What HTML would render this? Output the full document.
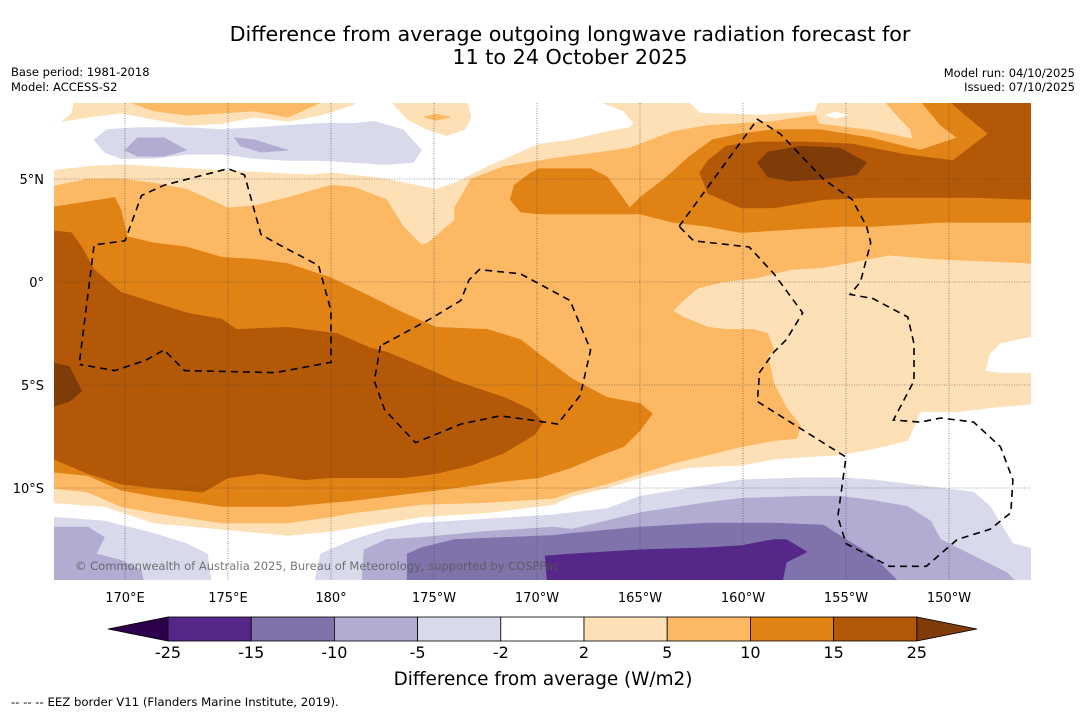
<!DOCTYPE html>
<html><head><meta charset="utf-8"><style>
html,body{margin:0;padding:0;background:#fff;}
body{width:1085px;height:713px;position:relative;overflow:hidden;font-family:"DejaVu Sans","Liberation Sans",sans-serif;}
svg{position:absolute;left:0;top:0;font-family:"DejaVu Sans","Liberation Sans",sans-serif;}
</style></head><body>
<svg id="chart" width="1085" height="713" viewBox="0 0 1085 713">
<defs><clipPath id="mapclip"><rect x="54" y="103" width="977" height="477"/></clipPath></defs>
<text x="570" y="41" text-anchor="middle" font-size="20.7" fill="#000">Difference from average outgoing longwave radiation forecast for</text>
<text x="570" y="64" text-anchor="middle" font-size="20.7" fill="#000">11 to 24 October 2025</text>
<text x="11" y="76" font-size="11.5">Base period: 1981-2018</text>
<text x="11" y="91" font-size="11.5">Model: ACCESS-S2</text>
<text x="1075" y="77" font-size="11.5" text-anchor="end">Model run: 04/10/2025</text>
<text x="1075" y="91" font-size="11.5" text-anchor="end">Issued: 07/10/2025</text>
<g id="map" clip-path="url(#mapclip)"></g>
<g id="grid"></g>
<g id="eez" clip-path="url(#mapclip)"></g>
<text x="75" y="570" font-size="11.5" fill="#555" fill-opacity="0.8">© Commonwealth of Australia 2025, Bureau of Meteorology, supported by COSPPac</text>
<g id="axes"></g>
<g id="cbar"></g>
<text x="543" y="685" font-size="18.4" text-anchor="middle">Difference from average (W/m2)</text>
<text x="11" y="706" font-size="11.7">--  --  -- EEZ border V11 (Flanders Marine Institute, 2019).</text>
</svg>
<script>
// ---- data ----
const cbarBounds = [-25,-15,-10,-5,-2,2,5,10,15,25];
const levelColors = ["#2d004b","#542788","#8073ac","#b2abd2","#d8daeb","#ffffff","#fee0b6","#fdb863","#e08214","#b35806","#7f3b08"];
const lonTicks = [170,175,180,185,190,195,200,205,210];
const lonLabels = ["170°E","175°E","180°","175°W","170°W","165°W","160°W","155°W","150°W"];
const latTicks = [5,0,-5,-10];
const latLabels = ["5°N","0°","5°S","10°S"];
const L=166.3,R=214.3,T=8.8,B=-14.6;
const pos2Main = [[L,5.4],[168.2,5.6],[169.8,5.7],[175.0,5.4],[179.0,5.2],[180.0,5.3],[182.7,5.0],[185.1,4.5],[186.0,4.8],[187.6,5.6],[189.2,6.3],[190.1,6.7],[191.7,6.9],[193.4,7.3],[194.5,7.5],[194.7,7.7],[194.2,8.3],[192.9,T],[197.3,T],[197.9,8.2],[200.8,8.1],[203.9,8.3],[204.2,T],[R,T],[R,-5.9],[212.0,-6.1],[210.4,-6.3],[208.6,-6.3],[208.4,-6.8],[208.0,-7.7],[206.3,-8.1],[204.7,-8.4],[202.9,-8.5],[201.5,-8.6],[199.9,-8.9],[197.4,-9.0],[195.0,-9.5],[193.4,-10.0],[191.7,-10.4],[190.8,-10.8],[187.6,-11.2],[184.4,-11.4],[180.0,-12.1],[177.9,-12.3],[174.7,-12.0],[171.4,-11.7],[169.0,-10.9],[L,-10.7]];
const zeroNotch = [[R,-2.6],[212.5,-3.0],[212.0,-3.5],[211.8,-4.3],[212.5,-4.4],[R,-4.4]];
const zeroNorthWest = [[L,T],[167.5,T],[167.4,8.2],[166.9,7.8],[L,7.7]];
const pos2TopLeft = [[L,T],[181.3,T],[181.1,8.6],[179.5,8.1],[177.9,7.8],[176.3,8.0],[174.7,7.7],[173.0,7.6],[171.4,7.9],[169.8,8.2],[168.2,8.0],[L,7.7]];
const pos5TopLeft = [[170.0,T],[179.7,T],[177.9,8.0],[176.3,8.3],[174.7,8.2],[173.0,8.1],[171.4,8.3]];
const pos2TopMid = [[182.9,T],[186.6,T],[186.8,8.0],[186.5,7.4],[185.6,7.1],[184.7,7.4],[183.7,7.9]];
const pos5TopMid = [[184.5,8.0],[185.1,8.15],[185.8,8.0],[185.1,7.85]];
const pos5Main = [[L,4.6],[168.2,5.0],[169.8,5.0],[171.4,4.8],[173.0,4.5],[175.0,3.6],[176.3,3.7],[177.9,4.1],[180.0,4.7],[181.1,4.6],[182.7,4.0],[183.5,2.7],[184.4,1.8],[184.7,1.9],[186.0,3.0],[186.0,3.6],[186.8,5.0],[188.4,5.6],[190.8,6.0],[193.1,6.3],[194.5,6.5],[195.0,6.7],[196.6,7.3],[198.3,7.6],[199.9,7.7],[201.5,7.8],[202.8,8.0],[203.7,8.1],[204.4,8.4],[204.7,T],[R,T],[R,0.9],[209.6,1.1],[207.1,1.3],[205.5,1.0],[203.9,0.7],[202.3,0.6],[200.7,0.2],[199.0,0.0],[197.8,-0.3],[197.1,-0.9],[196.6,-1.4],[197.1,-1.7],[198.3,-2.2],[199.2,-2.3],[200.5,-2.3],[201.2,-2.5],[201.5,-3.3],[201.2,-3.6],[201.5,-4.9],[202.1,-6.1],[202.8,-7.0],[202.6,-7.6],[201.5,-7.7],[199.9,-8.0],[198.3,-8.4],[196.6,-8.8],[195.0,-9.3],[193.4,-9.8],[191.7,-10.2],[190.8,-10.5],[187.6,-10.7],[184.4,-10.8],[181.1,-11.2],[180.0,-11.4],[177.9,-11.7],[174.7,-11.7],[171.4,-11.2],[169.8,-10.9],[168.2,-10.2],[L,-10.0]];
const pos2Wedge = [[203.5,8.3],[203.7,T],[206.8,T],[207.6,7.9],[208.1,7.4],[208.2,7.0],[208.1,7.0],[206.2,7.4],[203.7,7.7]];
const zeroHole = [[204.0,8.1],[204.5,8.25],[205.1,8.1],[204.5,7.95]];
const pos10West = [[L,3.6],[168.2,3.9],[169.5,4.1],[169.8,3.5],[170.1,2.2],[171.4,1.9],[173.0,1.7],[174.7,1.2],[176.3,1.1],[177.9,0.9],[180.0,0.2],[181.9,-0.7],[183.5,-1.5],[185.1,-2.2],[187.6,-2.3],[189.2,-2.8],[190.1,-3.5],[191.7,-4.7],[193.4,-5.6],[195.0,-5.9],[195.6,-6.4],[195.0,-7.2],[194.2,-8.0],[193.1,-8.4],[191.7,-9.0],[190.1,-9.5],[188.2,-9.7],[186.0,-10.0],[184.4,-10.2],[181.1,-10.6],[180.0,-10.7],[177.9,-10.9],[174.7,-10.9],[171.4,-10.4],[169.8,-10.1],[168.2,-9.4],[L,-9.2]];
const pos10East = [[190.1,3.3],[189.2,3.4],[188.7,4.0],[188.9,4.7],[189.7,5.3],[190.1,5.5],[192.6,5.5],[193.4,5.1],[194.0,4.3],[194.5,3.6],[195.0,4.1],[196.3,5.1],[197.4,6.1],[198.5,6.9],[199.9,7.2],[201.5,7.4],[203.7,7.4],[206.2,7.0],[208.6,6.4],[210.4,7.0],[209.6,7.6],[208.6,T],[R,T],[R,2.9],[211.2,2.9],[209.6,2.9],[206.3,2.7],[204.7,2.7],[203.1,2.6],[201.5,2.5],[199.9,2.4],[198.3,2.7],[196.6,2.9],[195.0,3.3],[193.4,3.3]];
const pos15West = [[L,2.5],[167.4,2.4],[167.9,1.7],[168.5,0.6],[169.8,-0.5],[171.4,-1.0],[173.0,-1.5],[174.7,-1.8],[175.4,-2.3],[177.9,-2.2],[180.3,-2.5],[181.9,-3.2],[182.7,-3.4],[184.4,-4.1],[186.0,-4.8],[188.4,-5.6],[189.7,-6.2],[190.3,-6.8],[189.9,-7.4],[188.4,-8.3],[186.8,-8.9],[185.1,-9.3],[183.5,-9.5],[180.0,-9.5],[178.7,-9.6],[176.6,-9.3],[175.0,-9.5],[173.8,-10.2],[171.4,-10.0],[169.8,-9.8],[168.2,-9.3],[L,-8.5]];
const pos25West = [[L,-3.9],[167.3,-4.1],[167.9,-5.3],[167.3,-5.8],[L,-6.1]];
const pos15East = [[197.9,5.3],[198.3,5.9],[199.2,6.6],[200.7,6.8],[203.1,6.8],[205.3,6.7],[207.8,6.2],[210.2,5.9],[211.9,7.2],[210.8,8.1],[210.0,T],[R,T],[R,4.0],[211.2,4.1],[209.6,4.1],[206.3,4.1],[203.9,4.0],[201.5,3.6],[199.9,3.6],[198.3,4.3]];
const pos25East = [[200.7,5.8],[201.2,6.3],[202.8,6.6],[204.7,6.5],[206.0,5.8],[205.5,5.2],[203.9,5.0],[202.3,4.9],[201.2,5.1]];
const neg2North = [[168.5,6.9],[169.1,7.4],[170.6,7.5],[173.0,7.5],[174.7,7.4],[176.3,7.5],[177.9,7.6],[179.5,7.7],[181.1,7.7],[182.1,7.8],[183.5,7.4],[184.4,6.4],[184.0,5.8],[182.7,5.7],[181.1,5.8],[179.5,5.9],[177.9,5.9],[176.3,6.0],[174.7,6.2],[173.0,6.2],[171.4,6.0],[169.8,6.0],[169.0,6.3]];
const neg5NorthA = [[170.0,6.4],[170.6,7.0],[171.9,7.0],[173.0,6.4],[171.9,6.1],[170.6,6.1]];
const neg5NorthB = [[175.3,7.0],[176.3,6.9],[177.9,6.4],[176.6,6.3],[175.6,6.6]];
const neg2SouthW = [[L,-11.4],[169.0,-11.6],[171.4,-12.2],[173.0,-12.7],[174.0,-13.2],[174.2,B],[L,B]];
const neg2SouthE = [[179.2,B],[179.5,-13.2],[181.1,-12.5],[182.7,-12.0],[184.4,-11.7],[187.6,-11.5],[190.8,-11.3],[191.7,-11.2],[193.4,-11.0],[195.0,-10.4],[197.4,-10.0],[199.9,-9.6],[203.1,-9.5],[204.7,-9.5],[206.3,-9.6],[209.6,-10.0],[211.2,-10.2],[212.0,-10.9],[212.6,-11.9],[213.1,-12.7],[R,-13.0],[R,B]];
const neg5SouthW = [[L,-11.9],[168.2,-11.9],[169.0,-12.4],[168.6,-13.2],[169.8,-13.5],[170.8,-14.0],[170.9,B],[L,B]];
const neg5SouthE = [[181.5,B],[181.6,-13.0],[182.7,-12.5],[184.4,-12.4],[187.6,-12.1],[190.8,-11.9],[191.7,-12.0],[195.0,-11.2],[198.3,-10.7],[199.9,-10.5],[203.1,-10.4],[204.7,-10.4],[206.3,-10.6],[208.0,-10.9],[209.1,-11.6],[209.6,-12.5],[211.2,-13.3],[212.8,-14.1],[213.3,B]];
const neg10South = [[183.7,B],[183.7,-13.2],[184.4,-12.9],[186.0,-12.5],[188.4,-12.4],[190.8,-12.3],[191.7,-12.2],[195.0,-11.9],[198.3,-11.7],[201.5,-11.7],[203.9,-11.8],[205.0,-12.5],[206.3,-13.3],[207.1,-14.1],[207.6,B]];
const neg15South = [[190.5,B],[190.4,-13.3],[191.7,-13.2],[195.0,-13.0],[198.3,-12.9],[199.9,-12.8],[201.5,-12.5],[202.1,-12.5],[203.1,-13.1],[202.1,-13.6],[201.9,B]];
const eezWest = [[167.8,-3.8],[168.5,1.8],[170.0,2.0],[170.8,4.2],[171.9,4.7],[175.0,5.5],[175.8,5.2],[176.6,2.3],[177.5,1.8],[179.4,0.8],[180.0,-1.4],[180.0,-3.9],[177.3,-4.4],[172.9,-4.3],[171.9,-3.3],[171.0,-3.8],[169.5,-4.3],[167.8,-4.0]];
const eezCentral = [[182.4,-3.1],[182.1,-4.8],[182.6,-6.2],[184.1,-7.8],[186.3,-6.9],[188.2,-6.5],[189.7,-6.7],[191.0,-6.9],[192.1,-5.5],[192.6,-3.3],[191.6,-0.9],[189.2,0.4],[187.2,0.6],[186.7,0.1],[186.3,-0.9],[184.8,-1.8],[182.4,-3.1]];
const eezEast = [[196.9,2.7],[200.7,7.9],[201.8,7.2],[203.9,5.0],[205.3,4.0],[206.0,2.7],[206.2,1.9],[205.7,0.0],[205.2,-0.6],[206.3,-0.8],[208.0,-1.7],[208.3,-3.0],[208.3,-4.8],[207.3,-6.7],[208.6,-6.8],[209.6,-6.6],[211.2,-6.8],[212.5,-8.0],[213.1,-9.6],[213.0,-11.2],[212.0,-12.0],[210.4,-12.5],[208.9,-13.8],[207.1,-13.8],[205.0,-12.7],[204.6,-11.4],[205.0,-8.5],[200.7,-5.8],[200.8,-4.4],[201.5,-3.4],[202.1,-2.8],[202.9,-1.5],[201.5,0.4],[200.3,1.7],[197.6,2.0],[196.9,2.7]];
// layer order: [level index into levelColors, polygon, name]
const layers = [
 [6,pos2Main,"contour-2-5-main"],[5,zeroNotch,"contour-neutral-notch"],[6,pos2TopLeft,"contour-2-5-north"],[5,zeroNorthWest,"contour-neutral-northwest"],[7,pos5TopLeft,"contour-5-10-north"],
 [6,pos2TopMid,"contour-2-5-north-mid"],[7,pos5TopMid,"contour-5-10-north-mid"],[7,pos5Main,"contour-5-10-main"],
 [6,pos2Wedge,"contour-2-5-wedge"],[5,zeroHole,"contour-neutral-hole"],
 [8,pos10West,"contour-10-15-west"],[8,pos10East,"contour-10-15-east"],[9,pos15West,"contour-15-25-west"],[10,pos25West,"contour-above-25-west"],
 [9,pos15East,"contour-15-25-east"],[10,pos25East,"contour-above-25-east"],
 [4,neg2North,"contour-neg2-neg5-north"],[3,neg5NorthA,"contour-neg5-neg10-north-a"],[3,neg5NorthB,"contour-neg5-neg10-north-b"],
 [4,neg2SouthW,"contour-neg2-neg5-south-west"],[4,neg2SouthE,"contour-neg2-neg5-south-east"],[3,neg5SouthW,"contour-neg5-neg10-south-west"],
 [3,neg5SouthE,"contour-neg5-neg10-south-east"],[2,neg10South,"contour-neg10-neg15-south"],[1,neg15South,"contour-neg15-neg25-south"]
];
const eezLines = [[eezWest,"eez-border-west"],[eezCentral,"eez-border-central"],[eezEast,"eez-border-east"]];
// ---- axes ----
const xS = lon => 125 + (lon - 170) * 20.6;
const yS = lat => 282 - lat * 20.6;
const NS = "http://www.w3.org/2000/svg";
function mk(tag, attrs, parent){const e=document.createElementNS(NS,tag);for(const k in attrs)e.setAttribute(k,attrs[k]);parent.appendChild(e);return e;}
const pts = arr => arr.map(p => xS(p[0]).toFixed(1)+","+yS(p[1]).toFixed(1)).join(" ");
const map = document.getElementById("map");
mk("rect",{x:54,y:103,width:977,height:477,fill:"#ffffff"},map);
layers.forEach(l=>{
 const p = mk("polygon",{points:pts(l[1]),fill:levelColors[l[0]],stroke:levelColors[l[0]],"stroke-width":0.6},map);
 
 
});
const eez = document.getElementById("eez");
eezLines.forEach(l=>{
 const p = mk("polyline",{points:pts(l[0]),fill:"none",stroke:"#000","stroke-width":1.6,"stroke-dasharray":"7,5"},eez);
 
 
});
const grid = document.getElementById("grid"), axes = document.getElementById("axes");
lonTicks.forEach((lon,i)=>{
 const g = mk("line",{x1:xS(lon),x2:xS(lon),y1:103,y2:580,stroke:"#444","stroke-width":0.6,"stroke-dasharray":"1,1.5"},grid);
 
 
 const t = mk("text",{x:xS(lon),y:602,"font-size":13,"text-anchor":"middle"},axes);
 t.textContent = lonLabels[i];
 
 
});
latTicks.forEach((lat,i)=>{
 const g = mk("line",{x1:54,x2:1031,y1:yS(lat),y2:yS(lat),stroke:"#444","stroke-width":0.6,"stroke-dasharray":"1,1.5"},grid);
 
 
 const t = mk("text",{x:44,y:yS(lat)+5,"font-size":13,"text-anchor":"end"},axes);
 t.textContent = latLabels[i];
 
 
});
// ---- colorbar ----
const cb = document.getElementById("cbar");
const cbX = i => 168 + i * 83.2;
const cy0 = 617, cy1 = 641;
const lt = mk("polygon",{points:`108,629 ${cbX(0)},${cy0} ${cbX(0)},${cy1}`,fill:levelColors[0],stroke:"#000","stroke-width":0.8},cb);


const n = cbarBounds.length;
const rt = mk("polygon",{points:`977,629 ${cbX(n-1)},${cy0} ${cbX(n-1)},${cy1}`,fill:levelColors[levelColors.length-1],stroke:"#000","stroke-width":0.8},cb);


for(let i=0;i<n-1;i++){
 const r = mk("rect",{x:cbX(i),y:cy0,width:cbX(i+1)-cbX(i),height:cy1-cy0,fill:levelColors[i+1],stroke:"#000","stroke-width":0.8},cb);
 
 
}
cbarBounds.forEach((v,i)=>{
 const t = mk("text",{x:cbX(i),y:658,"font-size":16,"text-anchor":"middle"},cb);
 t.textContent = String(v);
 
 
});
</script>
</body></html>
